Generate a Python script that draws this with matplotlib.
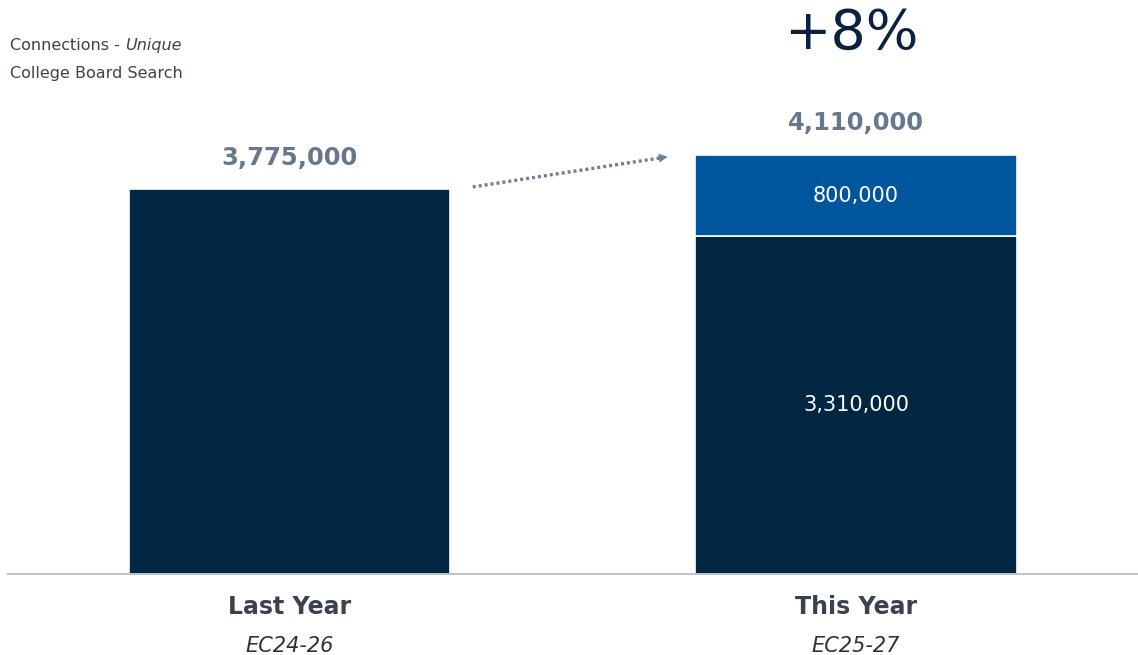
import matplotlib
matplotlib.use('Agg')
import matplotlib.pyplot as plt

# data
categories = ['Last Year', 'This Year']
periods = ['EC24-26', 'EC25-27']
base_values = [3775000, 3310000]
added_values = [0, 800000]
growth_label = '+8%'

navy = '#002642'
blue = '#00569D'
label_gray = '#66788C'
text_dark = '#3A4250'

plt.rcParams['font.family'] = ['DejaVu Sans']

fig = plt.figure(figsize=(11.38, 6.55), dpi=100)
ax = fig.add_axes([8 / 1138, 81 / 655, 1130 / 1138, 574 / 655])

x = [0, 1]
width = 0.567
totals = [b + a for b, a in zip(base_values, added_values)]

ax.bar(x, base_values, width=width, color=navy, edgecolor='white', linewidth=1.2)
ax.bar(x[1], added_values[1], bottom=base_values[1], width=width,
       color=blue, edgecolor='white', linewidth=1.2)

ax.set_xlim(-0.497, 1.498)
ax.set_ylim(0, 5628000)

# total labels above the bars
for xi, tot in zip(x, totals):
    ax.annotate(f'{tot:,}', xy=(xi, tot), xytext=(0, 14), textcoords='offset points',
                ha='center', va='bottom', fontsize=17.5, fontweight='bold', color=label_gray)

# segment labels inside the stacked bar
ax.text(x[1], base_values[1] + added_values[1] / 2, f'{added_values[1]:,}',
        ha='center', va='center', color='white', fontsize=15)
ax.text(x[1], base_values[1] / 2, f'{base_values[1]:,}',
        ha='center', va='center', color='white', fontsize=15)

# growth figure
ax.annotate(growth_label, xy=(x[1], totals[1]), xytext=(-3, 76), textcoords='offset points',
            ha='center', va='baseline', fontsize=40, color='#0A2240')

# dotted arrow between the bar tops
x0 = x[0] + width / 2 + 0.04
x1 = x[1] - width / 2 - 0.05
y0 = totals[0] + 20000
y1 = totals[1] - 20000
slope = (y1 - y0) / (x1 - x0)
ax.plot([x0, x1 - 0.012], [y0, y1 - 0.012 * slope],
        linestyle=(0, (0.9, 0.9)), color='#6E7F92', linewidth=2.4, solid_capstyle='butt')
ax.annotate('', xy=(x1 + 0.006, y1 + 0.006 * slope), xytext=(x1 - 0.02, y1 - 0.02 * slope),
            arrowprops=dict(arrowstyle='-|>', color='#6E7F92', lw=0, mutation_scale=16))

# category labels under the axis
for xi, cat, per in zip(x, categories, periods):
    ax.annotate(cat, xy=(xi, 0), xytext=(0, -24), textcoords='offset points',
                ha='center', va='center', fontsize=17, fontweight='bold', color=text_dark)
    ax.annotate(per, xy=(xi, 0), xytext=(0, -52), textcoords='offset points',
                ha='center', va='center', fontsize=15, fontstyle='italic', color='#333333')

# header text, italic word placed right after the first part
head = fig.text(10 / 1138, 1 - 45 / 655, 'Connections -', ha='left', va='baseline',
                fontsize=11.5, color=text_dark)
fig.canvas.draw()
bb = head.get_window_extent(renderer=fig.canvas.get_renderer())
fig.text((bb.x1 + 5) / 1138, 1 - 45 / 655, 'Unique', ha='left', va='baseline',
         fontsize=11.5, fontstyle='italic', color=text_dark)
head.set_y(1 - 50 / 655)
fig.texts[-1].set_y(1 - 50 / 655)
fig.text(10 / 1138, 1 - 78 / 655, 'College Board Search', ha='left', va='baseline',
         fontsize=11.5, color=text_dark)

ax.set_xticks([])
ax.set_yticks([])
for side in ['top', 'right', 'left']:
    ax.spines[side].set_visible(False)
ax.spines['bottom'].set_color('#B4C0CC')
ax.spines['bottom'].set_linewidth(1.3)

fig.savefig('out.png', dpi=100, facecolor='white')
